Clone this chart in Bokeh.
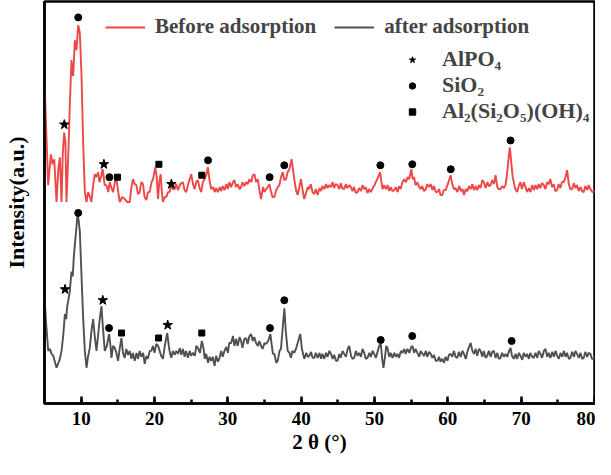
from bokeh.plotting import figure
from bokeh.models import Range1d, SingleIntervalTicker, FixedTicker, Legend, LegendItem
from bokeh.embed import file_html
from bokeh.resources import INLINE

# ---------------- data ----------------
two_theta_before = [
    5.0, 5.2, 5.5, 5.87, 6.1, 6.33, 6.64, 6.9, 7.1, 7.32,
    7.5, 7.69, 7.85, 8.0, 8.3, 8.46, 8.68, 8.8, 8.91, 9.14,
    9.37, 9.59, 9.7, 9.82, 10.05, 10.27, 10.5, 10.73, 10.95, 11.2,
    11.4, 11.6, 11.86, 12.05, 12.31, 12.5, 12.77, 12.9, 13.0, 13.2,
    13.45, 13.7, 13.9, 14.1, 14.35, 14.6, 14.81, 15.0, 15.26, 15.6,
    15.94, 16.3, 16.62, 16.85, 17.08, 17.3, 17.53, 17.75, 17.98, 18.2,
    18.44, 18.65, 18.89, 19.1, 19.34, 19.6, 19.8, 20.11, 20.3, 20.48,
    20.65, 20.84, 21.0, 21.15, 21.4, 21.61, 21.85, 22.06, 22.3, 22.5,
    22.74, 22.95,
    23.2, 23.5, 23.88, 24.1, 24.33, 24.6, 25.01, 25.25, 25.47, 25.7,
    25.92, 26.15, 26.37, 26.6, 26.83, 27.05, 27.28, 27.5, 27.73, 28.0,
    28.2, 28.4, 28.64, 28.9, 29.1, 29.3, 29.54, 29.8, 30.0, 30.2,
    30.45, 30.7, 30.9, 31.1, 31.35, 31.6, 31.81, 32.0, 32.25, 32.5,
    32.72, 32.95, 33.2, 33.4, 33.63, 33.85, 34.08, 34.3, 34.53, 34.8,
    35.0, 35.21, 35.45, 35.67, 35.9, 36.1, 36.35, 36.6, 36.8, 37.03,
    37.25, 37.48, 37.7, 37.93, 38.15, 38.39, 38.55, 38.7, 38.9, 39.06,
    39.3, 39.52, 39.75, 39.97, 40.2, 40.42, 40.7, 40.9, 41.1, 41.3,
    41.55, 41.78, 42.0, 42.24, 42.5, 42.7, 42.9, 43.15, 43.4, 43.6,
    43.8, 44.06, 44.3, 44.5, 44.7, 44.96, 45.2, 45.4, 45.6, 45.87,
    46.1, 46.3, 46.55, 46.78, 47.0, 47.2, 47.45, 47.68, 47.9, 48.15,
    48.35, 48.59, 48.8, 49.05, 49.25, 49.5, 49.75, 50.0, 50.18, 50.5,
    50.77, 50.95, 51.09, 51.3, 51.55, 51.77, 52.0, 52.2, 52.45, 52.68,
    52.9, 53.15, 53.35, 53.58, 53.8, 54.04, 54.3, 54.5, 54.72, 55.03,
    55.2, 55.4, 55.6, 55.85, 56.1, 56.3, 56.5, 56.75, 56.98, 57.2,
    57.45, 57.66, 57.9, 58.1, 58.35, 58.57, 58.8, 59.0, 59.25, 59.45,
    59.7, 60.0, 60.38, 60.6, 60.84, 61.05, 61.3, 61.55, 61.8, 62.0,
    62.2, 62.45, 62.65, 62.9, 63.11, 63.35, 63.55, 63.8, 64.01, 64.25,
    64.45, 64.7, 64.92, 65.15, 65.4, 65.6, 65.83, 66.05, 66.3, 66.51,
    66.75, 66.95, 67.19, 67.4, 67.65, 67.87, 68.1, 68.3, 68.46, 68.65,
    68.85, 69.0, 69.2, 69.46, 69.7, 69.9, 70.1, 70.36, 70.6, 70.8,
    71.05, 71.27, 71.5, 71.75, 71.95, 72.18, 72.4, 72.6, 72.85, 73.08,
    73.3, 73.55, 73.75, 73.99, 74.2, 74.45, 74.65, 74.9, 75.1, 75.35,
    75.55, 75.81, 76.05, 76.26, 76.5, 76.7, 76.94, 77.2, 77.4, 77.62,
    77.85, 78.1, 78.3, 78.53, 78.75, 79.0, 79.2, 79.44, 79.7, 79.89,
    80.0,
]
intensity_before = [
    325, 283, 220, 251, 241, 246, 203, 238, 248, 203,
    253, 273, 263, 203, 263, 303, 346, 333, 330, 366,
    356, 381, 378, 373, 330, 263, 213, 203, 213, 208,
    203, 218, 231, 228, 233, 223, 230, 236, 233, 220,
    220, 213, 223, 218, 213, 223, 226, 216, 203, 208,
    206, 203, 203, 218, 226, 221, 220, 211, 213, 223,
    221, 208, 205, 213, 213, 223, 226, 238, 228, 206,
    223, 231, 213, 203, 208, 208, 213, 213, 220, 216,
    216, 221,
    215, 221, 223, 215, 213, 221, 231, 221, 216, 223,
    225, 217, 213, 223, 226, 230, 238, 225, 216, 218,
    213, 217, 213, 218, 214, 219, 215, 221, 216, 223,
    218, 223, 225, 218, 221, 216, 218, 223, 219, 223,
    221, 226, 223, 230, 231, 223, 226, 215, 206, 218,
    213, 216, 218, 221, 213, 208, 208, 215, 218, 220,
    228, 233, 225, 226, 233, 236, 241, 246, 235, 226,
    215, 210, 218, 226, 215, 206, 213, 218, 216, 221,
    213, 211, 216, 210, 217, 214, 219, 216, 221, 217,
    220, 218, 223, 217, 221, 220, 216, 222, 217, 216,
    221, 217, 220, 218, 214, 218, 212, 213, 217, 214,
    220, 216, 218, 212, 216, 213, 217, 220, 223, 228,
    233, 223, 216, 220, 216, 220, 214, 218, 214, 215,
    218, 213, 219, 216, 223, 226, 223, 228, 226, 236,
    226, 228, 220, 223, 218, 216, 219, 214, 216, 221,
    218, 221, 215, 219, 213, 213, 216, 210, 210, 215,
    215, 221, 230, 221, 216, 217, 213, 219, 214, 216,
    210, 216, 214, 219, 216, 221, 215, 219, 215, 220,
    217, 225, 223, 217, 223, 219, 220, 225, 221, 230,
    218, 216, 216, 219, 217, 220, 233, 248, 258, 243,
    228, 223, 216, 213, 220, 223, 216, 223, 218, 213,
    217, 213, 220, 215, 220, 216, 221, 217, 222, 220,
    216, 223, 221, 226, 218, 221, 214, 215, 221, 217,
    223, 223, 228, 235, 221, 216, 216, 222, 217, 220,
    214, 218, 214, 213, 219, 215, 220, 216, 213, 213,
    215,
]

two_theta_after = [
    5.0, 5.2, 5.51, 5.75, 5.96, 6.2, 6.45, 6.64, 6.9, 7.1,
    7.32, 7.55, 7.78, 7.95, 8.1, 8.23, 8.45, 8.68, 8.85, 9.0,
    9.14, 9.3, 9.5, 9.65, 9.82, 10.05, 10.27, 10.5, 10.73, 10.95,
    11.18, 11.4, 11.63, 11.85, 12.09, 12.3, 12.5, 12.77, 12.95, 13.22,
    13.5, 13.81, 14.0, 14.13, 14.35, 14.58, 14.8, 15.03, 15.25, 15.49,
    15.7, 15.94, 16.15, 16.4, 16.62, 16.85, 17.05, 17.3, 17.55, 17.75,
    17.98, 18.2, 18.45, 18.66, 18.9, 19.1, 19.35, 19.57, 19.8, 20.0,
    20.25, 20.5, 20.7, 20.9, 21.15, 21.4, 21.74, 21.95, 22.1, 22.29,
    22.5, 22.75, 22.97, 23.2, 23.45, 23.65, 23.88, 24.1, 24.3, 24.56,
    24.8, 25.0, 25.24, 25.5, 25.7, 25.92, 26.2, 26.46, 26.7, 26.85,
    27.05, 27.3, 27.5, 27.73, 27.95, 28.19, 28.4, 28.65, 28.87, 29.1,
    29.3, 29.54, 29.8, 30.0, 30.2, 30.45, 30.7, 30.9, 31.13, 31.35,
    31.6, 31.81, 32.0, 32.25, 32.49, 32.7, 32.95, 33.17, 33.4, 33.6,
    33.85, 34.1, 34.3, 34.53, 34.75, 35.0, 35.21, 35.5, 35.8, 36.0,
    36.15, 36.35, 36.6, 36.8, 37.05, 37.25, 37.5, 37.71, 37.9, 38.16,
    38.4, 38.61, 38.8, 39.05, 39.29, 39.6, 39.88, 40.1, 40.42, 40.7,
    40.9, 41.1, 41.35, 41.55, 41.78, 42.0, 42.24, 42.5, 42.7, 42.9,
    43.15, 43.4, 43.6, 43.85, 44.06, 44.3, 44.5, 44.75, 44.96, 45.2,
    45.4, 45.65, 45.87, 46.1, 46.35, 46.55, 46.8, 47.0, 47.23, 47.45,
    47.7, 47.91, 48.15, 48.36, 48.6, 48.8, 49.04, 49.3, 49.5, 49.75,
    49.95, 50.2, 50.45, 50.63, 50.86, 51.05, 51.22, 51.45, 51.6, 51.77,
    52.0, 52.2, 52.45, 52.7, 52.9, 53.13, 53.35, 53.6, 53.81, 54.05,
    54.25, 54.49, 54.75, 55.0, 55.17, 55.4, 55.6, 55.85, 56.1, 56.3,
    56.55, 56.76, 57.0, 57.2, 57.45, 57.66, 57.9, 58.1, 58.35, 58.57,
    58.8, 59.0, 59.25, 59.48, 59.7, 59.95, 60.15, 60.38, 60.6, 60.84,
    61.05, 61.29, 61.5, 61.75, 62.0, 62.2, 62.45, 62.7, 62.9, 63.11,
    63.35, 63.56, 63.8, 64.0, 64.25, 64.47, 64.7, 64.9, 65.15, 65.37,
    65.6, 65.85, 66.05, 66.28, 66.5, 66.75, 66.95, 67.19, 67.4, 67.65,
    67.87, 68.1, 68.35, 68.55, 68.75, 69.0, 69.23, 69.45, 69.7, 69.91,
    70.15, 70.35, 70.6, 70.81, 71.05, 71.25, 71.5, 71.72, 71.95, 72.2,
    72.4, 72.63, 72.85, 73.1, 73.31, 73.55, 73.75, 73.99, 74.25, 74.45,
    74.7, 74.9, 75.15, 75.35, 75.6, 75.81, 76.05, 76.25, 76.5, 76.71,
    76.95, 77.2, 77.4, 77.62, 77.85, 78.1, 78.3, 78.53, 78.75, 79.0,
    79.2, 79.44, 79.65, 79.89, 80.0,
]
intensity_after = [
    108, 83, 53, 55, 50, 48, 41, 36, 41, 45,
    53, 68, 90, 85, 98, 103, 113, 133, 128, 148,
    160, 173, 190, 185, 173, 128, 86, 53, 36, 48,
    56, 73, 85, 68, 53, 68, 83, 98, 78, 53,
    58, 70, 58, 46, 58, 56, 51, 43, 55, 66,
    51, 46, 55, 49, 53, 45, 51, 43, 51, 45,
    53, 47, 51, 40, 48, 45, 53, 53, 58, 51,
    60, 58, 53, 48, 45, 58, 71, 58, 51, 46,
    53, 49, 53, 50, 56, 49, 55, 47, 53, 46,
    53, 48, 51, 48, 58, 56, 51, 63, 55, 45,
    50, 41, 47, 43, 47, 38, 48, 42, 46, 53,
    47, 53, 57, 51, 61, 61, 68, 58, 65, 58,
    67, 63, 56, 65, 66, 60, 68, 70, 63, 67,
    61, 58, 63, 58, 55, 61, 60, 63, 70, 58,
    50, 50, 41, 43, 53, 55, 78, 96, 73, 53,
    51, 46, 53, 51, 55, 63, 70, 55, 45, 51,
    47, 48, 52, 46, 46, 51, 46, 51, 45, 50,
    45, 51, 47, 53, 50, 45, 49, 43, 43, 50,
    46, 53, 50, 47, 55, 58, 48, 45, 46, 53,
    48, 51, 47, 55, 51, 45, 46, 51, 47, 53,
    50, 46, 53, 58, 60, 45, 36, 48, 58, 56,
    47, 51, 46, 51, 47, 50, 46, 53, 51, 55,
    50, 55, 51, 57, 58, 51, 55, 51, 47, 53,
    50, 48, 53, 47, 52, 50, 46, 49, 43, 43,
    47, 42, 45, 41, 47, 43, 49, 50, 47, 53,
    47, 46, 52, 47, 53, 50, 45, 53, 57, 61,
    53, 50, 55, 48, 55, 53, 47, 53, 46, 48,
    53, 47, 52, 53, 46, 51, 45, 46, 51, 47,
    50, 47, 53, 56, 48, 45, 50, 45, 51, 48,
    44, 51, 47, 50, 45, 51, 47, 46, 51, 46,
    53, 50, 46, 53, 55, 47, 51, 46, 52, 47,
    53, 48, 45, 51, 47, 53, 47, 51, 45, 46,
    52, 47, 53, 50, 46, 51, 45, 46, 52, 47,
    51, 50, 45, 45, 48,
]

# phase identification markers (2theta, height)
alpo4_x = [7.7, 13.1, 22.3, 7.8, 12.95, 21.8]
alpo4_y = [281, 241, 221, 115, 104, 79]
sio2_x = [9.6, 13.85, 27.3, 35.7, 37.7, 50.8, 55.15, 60.4, 68.55,
          9.6, 13.8, 35.75, 37.7, 50.85, 55.15, 68.7]
sio2_y = [389, 228, 245, 228, 240, 240, 241, 236, 265,
          192, 76, 76, 104, 64, 68, 63]
kaolin_x = [14.95, 20.6, 26.45, 15.5, 20.55, 26.45]
kaolin_y = [228, 241, 230, 71, 66, 71]

series_labels = ["Before adsorption", "after adsorption"]
phase_labels = ["AlPO\u2084", "SiO\u2082", "Al\u2082(Si\u2082O\u2085)(OH)\u2084"]
x_title = "2 \u03b8 (\u00b0)"
y_title = "Intensity(a.u.)"
x_ticks_interval = 10

assert len(two_theta_before) == len(intensity_before)
assert len(two_theta_after) == len(intensity_after)

FONT = "Liberation Serif"

p = figure(width=595, height=459, output_backend="svg", toolbar_location=None,
           x_range=Range1d(5, 80), y_range=Range1d(0, 405),
           min_border_left=43, min_border_right=1, min_border_top=1,
           min_border_bottom=56)
p.grid.visible = False
p.outline_line_color = "black"
p.outline_line_width = 2.5
p.background_fill_color = "white"

r_before = p.line(two_theta_before, intensity_before, line_color="#EE4747", line_width=1.9)
r_after = p.line(two_theta_after, intensity_after, line_color="#505050", line_width=1.9)

s_star = p.scatter(alpo4_x, alpo4_y, marker="star", size=10, color="black")
s_circ = p.scatter(sio2_x, sio2_y, marker="circle", size=7, color="black")
s_sq = p.scatter(kaolin_x, kaolin_y, marker="square", size=6, color="black")

# x axis
xa = p.xaxis[0]
xa.ticker = SingleIntervalTicker(interval=x_ticks_interval, num_minor_ticks=2)
xa.major_tick_in = 7
xa.major_tick_out = 0
xa.minor_tick_in = 4
xa.minor_tick_out = 0
xa.major_tick_line_width = 2.5
xa.minor_tick_line_width = 2.5
xa.axis_line_width = 2.5
xa.major_label_text_font = FONT
xa.major_label_text_font_style = "bold"
xa.major_label_text_font_size = "19px"
xa.major_label_text_color = "black"
xa.major_label_standoff = 8
xa.axis_label = x_title
xa.axis_label_text_font = FONT
xa.axis_label_text_font_style = "bold"
xa.axis_label_text_font_size = "21px"
xa.axis_label_text_color = "black"
xa.axis_label_standoff = 2

# y axis
ya = p.yaxis[0]
ya.ticker = FixedTicker(ticks=[])
ya.major_label_text_font_size = "0px"
ya.major_tick_line_color = None
ya.minor_tick_line_color = None
ya.axis_line_width = 2.5
ya.axis_label = y_title
ya.axis_label_text_font = FONT
ya.axis_label_text_font_style = "bold"
ya.axis_label_text_font_size = "22px"
ya.axis_label_text_color = "black"
ya.axis_label_standoff = 16

leg1 = Legend(items=[LegendItem(label=series_labels[0], renderers=[r_before]),
                     LegendItem(label=series_labels[1], renderers=[r_after])],
              orientation="horizontal", location=(61, 364),
              border_line_color=None, background_fill_alpha=0, padding=0, margin=0,
              spacing=18, glyph_width=40, glyph_height=20, label_height=20,
              label_standoff=10, label_text_font=FONT, label_text_font_style="bold",
              label_text_font_size="21px")
leg2 = Legend(items=[LegendItem(label=phase_labels[0], renderers=[s_star]),
                     LegendItem(label=phase_labels[1], renderers=[s_circ]),
                     LegendItem(label=phase_labels[2], renderers=[s_sq])],
              orientation="vertical", location=(360, 279),
              border_line_color=None, background_fill_alpha=0, padding=0, margin=0,
              spacing=0, glyph_width=16, glyph_height=25, label_height=25,
              label_standoff=22, label_text_font=FONT, label_text_font_style="bold",
              label_text_font_size="22px")
p.add_layout(leg1)
p.add_layout(leg2)

open("out.html", "w").write(file_html(p, INLINE))
